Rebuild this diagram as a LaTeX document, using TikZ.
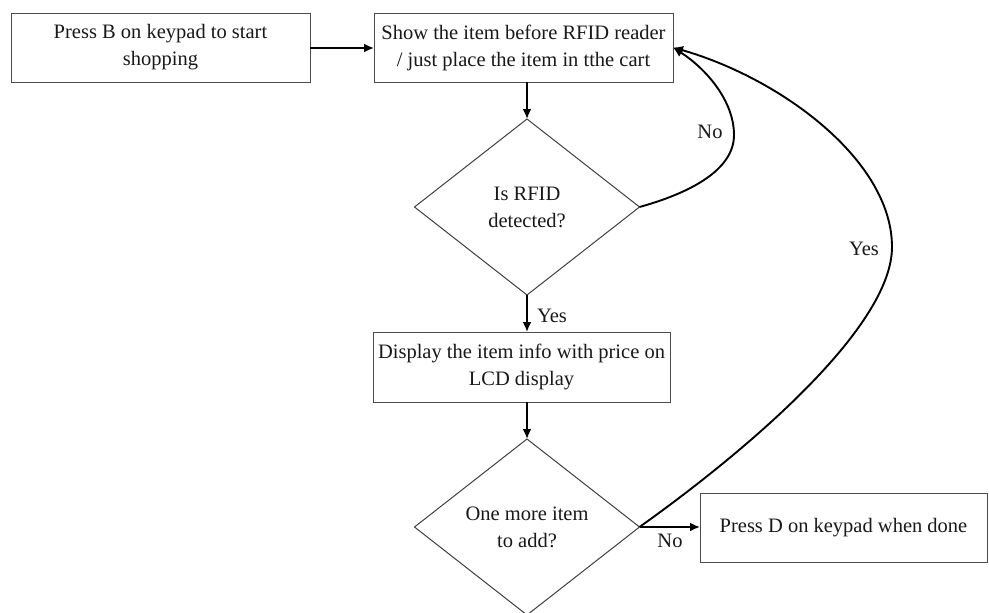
\documentclass[tikz,border=0pt]{standalone}
\usepackage{fontspec}
\setmainfont{Liberation Serif}
\usetikzlibrary{shapes.geometric,arrows.meta}

\tikzset{
  every node/.style={font=\fontsize{20.5}{27}\selectfont, text=black!90},
  stepbox/.style={draw=black!70, line width=1pt, rectangle, inner sep=0pt,
    outer sep=0pt, align=center, minimum height=69pt},
  decision/.style={draw=black!75, line width=1pt, diamond, aspect=1.28,
    inner sep=0pt, outer sep=0pt, align=center, minimum width=225pt,
    minimum height=176pt},
  flow/.style={line width=1.9pt, black, -{Latex[length=10pt,width=9pt]}},
  tag/.style={inner sep=0pt}
}

\begin{document}
\begin{tikzpicture}[x=1pt, y=-1pt]
  \clip (0,0) rectangle (989,613);
  \fill[white] (0,0) rectangle (989,613);

  % process boxes
  \node[stepbox, minimum width=299pt] (start) at (160.5,47.5)
    {Press B on keypad to start\\shopping};
  \node[stepbox, minimum width=299pt] (scan) at (523.5,47.5)
    {Show the item before RFID reader\\/ just place the item in tthe cart};
  \node[stepbox, minimum width=297pt, minimum height=70pt] (show) at (521.5,367)
    {Display the item info with price on\\LCD display};
  \node[stepbox, minimum width=287pt] (done) at (843.5,527.5)
    {Press D on keypad when done};

  % decisions
  \node[decision] (rfid) at (527,207) {Is RFID\\detected?};
  \node[decision] (more) at (527,527) {One more item\\to add?};

  % straight connectors
  \draw[flow] (start.east |- 0,48) -- (scan.west |- 0,48);
  \draw[flow] (scan.south -| rfid.north) -- (rfid.north);
  \draw[flow] (rfid.south) -- (show.north -| rfid.south);
  \draw[flow] (show.south -| more.north) -- (more.north);
  \draw[flow] (more.east) -- (done.west |- more.east);

  % loop back when no tag is read
  \coordinate (nopeak) at (734,135);
  \draw[flow] (rfid.east) .. controls (690,193) and (734,170) .. (nopeak)
    .. controls (734,100) and (705,68) .. (scan.east);

  % loop back for another item
  \coordinate (yespeak) at (892,247);
  \draw[flow] (more.east) .. controls (738,457) and (892,330) .. (yespeak)
    .. controls (892,160) and (780,78) .. (scan.east);

  % connector labels
  \node[tag] (lno1) at (710,132) {No};
  \node[tag] (lyes1) at (864,249) {Yes};
  \node[tag] (lyes2) at (552,316) {Yes};
  \node[tag] (lno2) at (670,541) {No};
\end{tikzpicture}
\end{document}
